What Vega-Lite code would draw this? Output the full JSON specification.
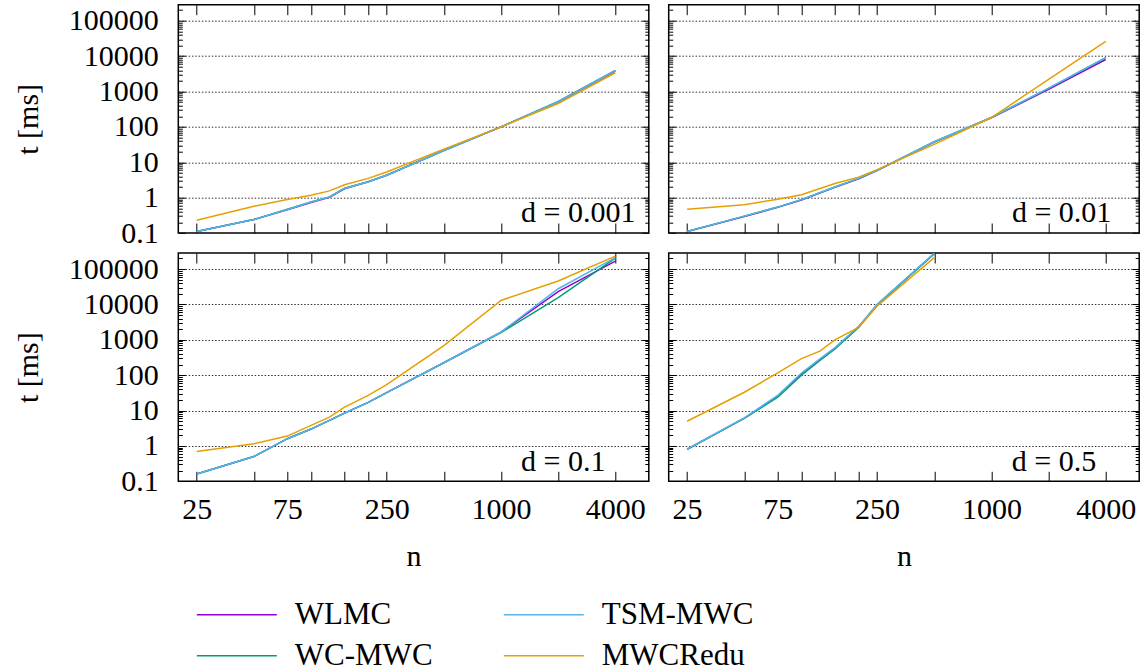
{
  "$schema": "https://vega.github.io/schema/vega-lite/v6.json",
  "autosize": {"type": "none"},
  "padding": {"left": 178.3, "top": 4.7, "right": 966.7, "bottom": 666.3},
  "bounds": "flush",
  "columns": 2,
  "spacing": {"row": 19.3, "column": 19.4},
  "datasets": {
    "runs": [
      {"d": "0.001", "algo": "WLMC", "n": 25, "t": 0.11},
      {"d": "0.001", "algo": "WLMC", "n": 50, "t": 0.24},
      {"d": "0.001", "algo": "WLMC", "n": 75, "t": 0.45},
      {"d": "0.001", "algo": "WLMC", "n": 100, "t": 0.73},
      {"d": "0.001", "algo": "WLMC", "n": 125, "t": 1.02},
      {"d": "0.001", "algo": "WLMC", "n": 150, "t": 1.78},
      {"d": "0.001", "algo": "WLMC", "n": 200, "t": 2.8},
      {"d": "0.001", "algo": "WLMC", "n": 250, "t": 4.3},
      {"d": "0.001", "algo": "WLMC", "n": 500, "t": 21.5},
      {"d": "0.001", "algo": "WLMC", "n": 1000, "t": 100},
      {"d": "0.001", "algo": "WLMC", "n": 2000, "t": 505},
      {"d": "0.001", "algo": "WLMC", "n": 4000, "t": 3800},
      {"d": "0.001", "algo": "WC-MWC", "n": 25, "t": 0.11},
      {"d": "0.001", "algo": "WC-MWC", "n": 50, "t": 0.24},
      {"d": "0.001", "algo": "WC-MWC", "n": 75, "t": 0.47},
      {"d": "0.001", "algo": "WC-MWC", "n": 100, "t": 0.76},
      {"d": "0.001", "algo": "WC-MWC", "n": 125, "t": 1.05},
      {"d": "0.001", "algo": "WC-MWC", "n": 150, "t": 1.85},
      {"d": "0.001", "algo": "WC-MWC", "n": 200, "t": 2.8},
      {"d": "0.001", "algo": "WC-MWC", "n": 250, "t": 4.3},
      {"d": "0.001", "algo": "WC-MWC", "n": 500, "t": 21.5},
      {"d": "0.001", "algo": "WC-MWC", "n": 1000, "t": 100},
      {"d": "0.001", "algo": "WC-MWC", "n": 2000, "t": 525},
      {"d": "0.001", "algo": "WC-MWC", "n": 4000, "t": 3950},
      {"d": "0.001", "algo": "TSM-MWC", "n": 25, "t": 0.11},
      {"d": "0.001", "algo": "TSM-MWC", "n": 50, "t": 0.24},
      {"d": "0.001", "algo": "TSM-MWC", "n": 75, "t": 0.46},
      {"d": "0.001", "algo": "TSM-MWC", "n": 100, "t": 0.75},
      {"d": "0.001", "algo": "TSM-MWC", "n": 125, "t": 1.04},
      {"d": "0.001", "algo": "TSM-MWC", "n": 150, "t": 1.82},
      {"d": "0.001", "algo": "TSM-MWC", "n": 200, "t": 2.8},
      {"d": "0.001", "algo": "TSM-MWC", "n": 250, "t": 4.3},
      {"d": "0.001", "algo": "TSM-MWC", "n": 500, "t": 21.5},
      {"d": "0.001", "algo": "TSM-MWC", "n": 1000, "t": 100},
      {"d": "0.001", "algo": "TSM-MWC", "n": 2000, "t": 515},
      {"d": "0.001", "algo": "TSM-MWC", "n": 4000, "t": 3880},
      {"d": "0.001", "algo": "MWCRedu", "n": 25, "t": 0.23},
      {"d": "0.001", "algo": "MWCRedu", "n": 50, "t": 0.57},
      {"d": "0.001", "algo": "MWCRedu", "n": 75, "t": 0.88},
      {"d": "0.001", "algo": "MWCRedu", "n": 100, "t": 1.17},
      {"d": "0.001", "algo": "MWCRedu", "n": 125, "t": 1.55},
      {"d": "0.001", "algo": "MWCRedu", "n": 150, "t": 2.3},
      {"d": "0.001", "algo": "MWCRedu", "n": 200, "t": 3.5},
      {"d": "0.001", "algo": "MWCRedu", "n": 250, "t": 5.3},
      {"d": "0.001", "algo": "MWCRedu", "n": 500, "t": 23.5},
      {"d": "0.001", "algo": "MWCRedu", "n": 1000, "t": 100},
      {"d": "0.001", "algo": "MWCRedu", "n": 2000, "t": 457},
      {"d": "0.001", "algo": "MWCRedu", "n": 4000, "t": 3390},

      {"d": "0.01", "algo": "WLMC", "n": 25, "t": 0.11},
      {"d": "0.01", "algo": "WLMC", "n": 50, "t": 0.29},
      {"d": "0.01", "algo": "WLMC", "n": 75, "t": 0.53},
      {"d": "0.01", "algo": "WLMC", "n": 100, "t": 0.86},
      {"d": "0.01", "algo": "WLMC", "n": 150, "t": 1.95},
      {"d": "0.01", "algo": "WLMC", "n": 200, "t": 3.4},
      {"d": "0.01", "algo": "WLMC", "n": 250, "t": 5.8},
      {"d": "0.01", "algo": "WLMC", "n": 500, "t": 37},
      {"d": "0.01", "algo": "WLMC", "n": 1000, "t": 180},
      {"d": "0.01", "algo": "WLMC", "n": 2000, "t": 1150},
      {"d": "0.01", "algo": "WLMC", "n": 4000, "t": 8050},
      {"d": "0.01", "algo": "WC-MWC", "n": 25, "t": 0.11},
      {"d": "0.01", "algo": "WC-MWC", "n": 50, "t": 0.3},
      {"d": "0.01", "algo": "WC-MWC", "n": 75, "t": 0.54},
      {"d": "0.01", "algo": "WC-MWC", "n": 100, "t": 0.88},
      {"d": "0.01", "algo": "WC-MWC", "n": 150, "t": 2.0},
      {"d": "0.01", "algo": "WC-MWC", "n": 200, "t": 3.5},
      {"d": "0.01", "algo": "WC-MWC", "n": 250, "t": 5.9},
      {"d": "0.01", "algo": "WC-MWC", "n": 500, "t": 38},
      {"d": "0.01", "algo": "WC-MWC", "n": 1000, "t": 184},
      {"d": "0.01", "algo": "WC-MWC", "n": 2000, "t": 1230},
      {"d": "0.01", "algo": "WC-MWC", "n": 4000, "t": 9000},
      {"d": "0.01", "algo": "TSM-MWC", "n": 25, "t": 0.11},
      {"d": "0.01", "algo": "TSM-MWC", "n": 50, "t": 0.3},
      {"d": "0.01", "algo": "TSM-MWC", "n": 75, "t": 0.54},
      {"d": "0.01", "algo": "TSM-MWC", "n": 100, "t": 0.88},
      {"d": "0.01", "algo": "TSM-MWC", "n": 150, "t": 2.0},
      {"d": "0.01", "algo": "TSM-MWC", "n": 200, "t": 3.5},
      {"d": "0.01", "algo": "TSM-MWC", "n": 250, "t": 5.9},
      {"d": "0.01", "algo": "TSM-MWC", "n": 500, "t": 38},
      {"d": "0.01", "algo": "TSM-MWC", "n": 1000, "t": 184},
      {"d": "0.01", "algo": "TSM-MWC", "n": 2000, "t": 1250},
      {"d": "0.01", "algo": "TSM-MWC", "n": 4000, "t": 9100},
      {"d": "0.01", "algo": "MWCRedu", "n": 25, "t": 0.47},
      {"d": "0.01", "algo": "MWCRedu", "n": 50, "t": 0.63},
      {"d": "0.01", "algo": "MWCRedu", "n": 75, "t": 0.9},
      {"d": "0.01", "algo": "MWCRedu", "n": 100, "t": 1.2},
      {"d": "0.01", "algo": "MWCRedu", "n": 150, "t": 2.5},
      {"d": "0.01", "algo": "MWCRedu", "n": 200, "t": 3.8},
      {"d": "0.01", "algo": "MWCRedu", "n": 250, "t": 6.2},
      {"d": "0.01", "algo": "MWCRedu", "n": 500, "t": 32},
      {"d": "0.01", "algo": "MWCRedu", "n": 1000, "t": 184},
      {"d": "0.01", "algo": "MWCRedu", "n": 2000, "t": 2200},
      {"d": "0.01", "algo": "MWCRedu", "n": 4000, "t": 26000},

      {"d": "0.1", "algo": "WLMC", "n": 25, "t": 0.16},
      {"d": "0.1", "algo": "WLMC", "n": 50, "t": 0.5},
      {"d": "0.1", "algo": "WLMC", "n": 75, "t": 1.6},
      {"d": "0.1", "algo": "WLMC", "n": 100, "t": 3.0},
      {"d": "0.1", "algo": "WLMC", "n": 150, "t": 8.5},
      {"d": "0.1", "algo": "WLMC", "n": 200, "t": 17},
      {"d": "0.1", "algo": "WLMC", "n": 250, "t": 32},
      {"d": "0.1", "algo": "WLMC", "n": 500, "t": 225},
      {"d": "0.1", "algo": "WLMC", "n": 1000, "t": 1650},
      {"d": "0.1", "algo": "WLMC", "n": 2000, "t": 23000},
      {"d": "0.1", "algo": "WLMC", "n": 4000, "t": 168000},
      {"d": "0.1", "algo": "WC-MWC", "n": 25, "t": 0.16},
      {"d": "0.1", "algo": "WC-MWC", "n": 50, "t": 0.5},
      {"d": "0.1", "algo": "WC-MWC", "n": 75, "t": 1.6},
      {"d": "0.1", "algo": "WC-MWC", "n": 100, "t": 3.0},
      {"d": "0.1", "algo": "WC-MWC", "n": 150, "t": 8.5},
      {"d": "0.1", "algo": "WC-MWC", "n": 200, "t": 17},
      {"d": "0.1", "algo": "WC-MWC", "n": 250, "t": 32},
      {"d": "0.1", "algo": "WC-MWC", "n": 500, "t": 225},
      {"d": "0.1", "algo": "WC-MWC", "n": 1000, "t": 1600},
      {"d": "0.1", "algo": "WC-MWC", "n": 2000, "t": 15500},
      {"d": "0.1", "algo": "WC-MWC", "n": 4000, "t": 205000},
      {"d": "0.1", "algo": "TSM-MWC", "n": 25, "t": 0.16},
      {"d": "0.1", "algo": "TSM-MWC", "n": 50, "t": 0.5},
      {"d": "0.1", "algo": "TSM-MWC", "n": 75, "t": 1.6},
      {"d": "0.1", "algo": "TSM-MWC", "n": 100, "t": 3.0},
      {"d": "0.1", "algo": "TSM-MWC", "n": 150, "t": 8.5},
      {"d": "0.1", "algo": "TSM-MWC", "n": 200, "t": 17},
      {"d": "0.1", "algo": "TSM-MWC", "n": 250, "t": 32},
      {"d": "0.1", "algo": "TSM-MWC", "n": 500, "t": 225},
      {"d": "0.1", "algo": "TSM-MWC", "n": 1000, "t": 1650},
      {"d": "0.1", "algo": "TSM-MWC", "n": 2000, "t": 27800},
      {"d": "0.1", "algo": "TSM-MWC", "n": 4000, "t": 210000},
      {"d": "0.1", "algo": "MWCRedu", "n": 25, "t": 0.7},
      {"d": "0.1", "algo": "MWCRedu", "n": 50, "t": 1.15},
      {"d": "0.1", "algo": "MWCRedu", "n": 75, "t": 1.9},
      {"d": "0.1", "algo": "MWCRedu", "n": 100, "t": 3.8},
      {"d": "0.1", "algo": "MWCRedu", "n": 125, "t": 6.5},
      {"d": "0.1", "algo": "MWCRedu", "n": 150, "t": 12.5},
      {"d": "0.1", "algo": "MWCRedu", "n": 200, "t": 27},
      {"d": "0.1", "algo": "MWCRedu", "n": 250, "t": 54},
      {"d": "0.1", "algo": "MWCRedu", "n": 500, "t": 690},
      {"d": "0.1", "algo": "MWCRedu", "n": 1000, "t": 13000},
      {"d": "0.1", "algo": "MWCRedu", "n": 2000, "t": 46000},
      {"d": "0.1", "algo": "MWCRedu", "n": 4000, "t": 233000},

      {"d": "0.5", "algo": "WLMC", "n": 25, "t": 0.8},
      {"d": "0.5", "algo": "WLMC", "n": 50, "t": 6.1},
      {"d": "0.5", "algo": "WLMC", "n": 75, "t": 25},
      {"d": "0.5", "algo": "WLMC", "n": 100, "t": 105},
      {"d": "0.5", "algo": "WLMC", "n": 125, "t": 270},
      {"d": "0.5", "algo": "WLMC", "n": 150, "t": 570},
      {"d": "0.5", "algo": "WLMC", "n": 200, "t": 2300},
      {"d": "0.5", "algo": "WLMC", "n": 250, "t": 9800},
      {"d": "0.5", "algo": "WLMC", "n": 500, "t": 275000},
      {"d": "0.5", "algo": "WC-MWC", "n": 25, "t": 0.8},
      {"d": "0.5", "algo": "WC-MWC", "n": 50, "t": 6.0},
      {"d": "0.5", "algo": "WC-MWC", "n": 75, "t": 24},
      {"d": "0.5", "algo": "WC-MWC", "n": 100, "t": 100},
      {"d": "0.5", "algo": "WC-MWC", "n": 125, "t": 260},
      {"d": "0.5", "algo": "WC-MWC", "n": 150, "t": 550},
      {"d": "0.5", "algo": "WC-MWC", "n": 200, "t": 2250},
      {"d": "0.5", "algo": "WC-MWC", "n": 250, "t": 9600},
      {"d": "0.5", "algo": "WC-MWC", "n": 500, "t": 270000},
      {"d": "0.5", "algo": "TSM-MWC", "n": 25, "t": 0.82},
      {"d": "0.5", "algo": "TSM-MWC", "n": 50, "t": 6.2},
      {"d": "0.5", "algo": "TSM-MWC", "n": 75, "t": 27},
      {"d": "0.5", "algo": "TSM-MWC", "n": 100, "t": 115},
      {"d": "0.5", "algo": "TSM-MWC", "n": 125, "t": 290},
      {"d": "0.5", "algo": "TSM-MWC", "n": 150, "t": 600},
      {"d": "0.5", "algo": "TSM-MWC", "n": 200, "t": 2400},
      {"d": "0.5", "algo": "TSM-MWC", "n": 250, "t": 10000},
      {"d": "0.5", "algo": "TSM-MWC", "n": 500, "t": 280000},
      {"d": "0.5", "algo": "MWCRedu", "n": 25, "t": 5.0},
      {"d": "0.5", "algo": "MWCRedu", "n": 50, "t": 33},
      {"d": "0.5", "algo": "MWCRedu", "n": 75, "t": 117},
      {"d": "0.5", "algo": "MWCRedu", "n": 100, "t": 295},
      {"d": "0.5", "algo": "MWCRedu", "n": 125, "t": 480},
      {"d": "0.5", "algo": "MWCRedu", "n": 150, "t": 1000},
      {"d": "0.5", "algo": "MWCRedu", "n": 200, "t": 2240},
      {"d": "0.5", "algo": "MWCRedu", "n": 250, "t": 8900},
      {"d": "0.5", "algo": "MWCRedu", "n": 500, "t": 210000}
    ]
  },
  "concat": [
    {
      "width": 470.5,
      "height": 228.3,
      "layer": [
        {
          "data": {"name": "runs"},
          "transform": [{"filter": "datum.d === '0.001'"}],
          "mark": {"type": "line", "strokeWidth": 1.5, "clip": true},
          "encoding": {
            "x": {"field": "n", "type": "quantitative", "scale": {"type": "log", "domain": [20, 6000], "nice": false},
              "axis": {"orient": "bottom", "values": [25, 50, 75, 100, 150, 200, 250, 500, 1000, 2000, 4000], "tickSize": -10, "labels": false, "grid": false, "title": null}},
            "y": {"field": "t", "type": "quantitative", "scale": {"type": "log", "domain": [0.1, 285000], "nice": false},
              "axis": {"orient": "left", "values": [0.1, 0.2, 0.3, 0.4, 0.5, 0.6, 0.7, 0.8, 0.9, 1, 2, 3, 4, 5, 6, 7, 8, 9, 10, 20, 30, 40, 50, 60, 70, 80, 90, 100, 200, 300, 400, 500, 600, 700, 800, 900, 1000, 2000, 3000, 4000, 5000, 6000, 7000, 8000, 9000, 10000, 20000, 30000, 40000, 50000, 60000, 70000, 80000, 90000, 100000, 200000],
                "format": "~g",
                "labelExpr": "indexof([0.1, 1, 10, 100, 1000, 10000, 100000], datum.value) >= 0 ? datum.label : ''",
                "tickSize": {"condition": {"test": "indexof([0.1, 1, 10, 100, 1000, 10000, 100000], datum.value) >= 0", "value": -7}, "value": -4},
                "grid": true,
                "gridOpacity": {"condition": {"test": "indexof([1, 10, 100, 1000, 10000, 100000], datum.value) >= 0", "value": 1}, "value": 0},
                "labelPadding": 27, "title": "t [ms]", "titlePadding": 25}},
            "color": {"field": "algo", "type": "nominal", "title": null,
              "scale": {"domain": ["WLMC", "WC-MWC", "TSM-MWC", "MWCRedu"], "range": ["#9400d3", "#009e73", "#56b4e9", "#e69f00"]}}
          }
        },
        {
          "data": {"values": [{"label": "d = 0.001"}]},
          "mark": {"type": "text", "align": "right", "baseline": "alphabetic", "font": "Liberation Serif", "fontSize": 30, "color": "#000"},
          "encoding": {
            "x": {"datum": 5100, "type": "quantitative",
              "axis": {"orient": "top", "values": [25, 50, 75, 100, 150, 200, 250, 500, 1000, 2000, 4000], "tickSize": -10, "labels": false, "grid": false, "title": null}},
            "y": {"datum": 0.2, "type": "quantitative",
              "axis": {"orient": "right", "values": [0.1, 0.2, 0.3, 0.4, 0.5, 0.6, 0.7, 0.8, 0.9, 1, 2, 3, 4, 5, 6, 7, 8, 9, 10, 20, 30, 40, 50, 60, 70, 80, 90, 100, 200, 300, 400, 500, 600, 700, 800, 900, 1000, 2000, 3000, 4000, 5000, 6000, 7000, 8000, 9000, 10000, 20000, 30000, 40000, 50000, 60000, 70000, 80000, 90000, 100000, 200000],
                "tickSize": {"condition": {"test": "indexof([0.1, 1, 10, 100, 1000, 10000, 100000], datum.value) >= 0", "value": -7}, "value": -4},
                "labels": false, "grid": false, "title": null}},
            "text": {"field": "label"}
          }
        }
      ],
      "resolve": {"axis": {"x": "independent", "y": "independent"}}
    },
    {
      "width": 470.5,
      "height": 228.3,
      "layer": [
        {
          "data": {"name": "runs"},
          "transform": [{"filter": "datum.d === '0.01'"}],
          "mark": {"type": "line", "strokeWidth": 1.5, "clip": true},
          "encoding": {
            "x": {"field": "n", "type": "quantitative", "scale": {"type": "log", "domain": [20, 6000], "nice": false},
              "axis": {"orient": "bottom", "values": [25, 50, 75, 100, 150, 200, 250, 500, 1000, 2000, 4000], "tickSize": -10, "labels": false, "grid": false, "title": null}},
            "y": {"field": "t", "type": "quantitative", "scale": {"type": "log", "domain": [0.1, 285000], "nice": false},
              "axis": {"orient": "left", "values": [0.1, 0.2, 0.3, 0.4, 0.5, 0.6, 0.7, 0.8, 0.9, 1, 2, 3, 4, 5, 6, 7, 8, 9, 10, 20, 30, 40, 50, 60, 70, 80, 90, 100, 200, 300, 400, 500, 600, 700, 800, 900, 1000, 2000, 3000, 4000, 5000, 6000, 7000, 8000, 9000, 10000, 20000, 30000, 40000, 50000, 60000, 70000, 80000, 90000, 100000, 200000],
                "tickSize": {"condition": {"test": "indexof([0.1, 1, 10, 100, 1000, 10000, 100000], datum.value) >= 0", "value": -7}, "value": -4},
                "grid": true,
                "gridOpacity": {"condition": {"test": "indexof([1, 10, 100, 1000, 10000, 100000], datum.value) >= 0", "value": 1}, "value": 0},
                "labels": false, "title": null}},
            "color": {"field": "algo", "type": "nominal", "title": null,
              "scale": {"domain": ["WLMC", "WC-MWC", "TSM-MWC", "MWCRedu"], "range": ["#9400d3", "#009e73", "#56b4e9", "#e69f00"]}}
          }
        },
        {
          "data": {"values": [{"label": "d = 0.01"}]},
          "mark": {"type": "text", "align": "right", "baseline": "alphabetic", "font": "Liberation Serif", "fontSize": 30, "color": "#000"},
          "encoding": {
            "x": {"datum": 4280, "type": "quantitative",
              "axis": {"orient": "top", "values": [25, 50, 75, 100, 150, 200, 250, 500, 1000, 2000, 4000], "tickSize": -10, "labels": false, "grid": false, "title": null}},
            "y": {"datum": 0.2, "type": "quantitative",
              "axis": {"orient": "right", "values": [0.1, 0.2, 0.3, 0.4, 0.5, 0.6, 0.7, 0.8, 0.9, 1, 2, 3, 4, 5, 6, 7, 8, 9, 10, 20, 30, 40, 50, 60, 70, 80, 90, 100, 200, 300, 400, 500, 600, 700, 800, 900, 1000, 2000, 3000, 4000, 5000, 6000, 7000, 8000, 9000, 10000, 20000, 30000, 40000, 50000, 60000, 70000, 80000, 90000, 100000, 200000],
                "tickSize": {"condition": {"test": "indexof([0.1, 1, 10, 100, 1000, 10000, 100000], datum.value) >= 0", "value": -7}, "value": -4},
                "labels": false, "grid": false, "title": null}},
            "text": {"field": "label"}
          }
        }
      ],
      "resolve": {"axis": {"x": "independent", "y": "independent"}}
    },
    {
      "width": 470.5,
      "height": 228.3,
      "layer": [
        {
          "data": {"name": "runs"},
          "transform": [{"filter": "datum.d === '0.1'"}],
          "mark": {"type": "line", "strokeWidth": 1.5, "clip": true},
          "encoding": {
            "x": {"field": "n", "type": "quantitative", "scale": {"type": "log", "domain": [20, 6000], "nice": false},
              "axis": {"orient": "bottom", "values": [25, 50, 75, 100, 150, 200, 250, 500, 1000, 2000, 4000], "format": "d",
                "labelExpr": "indexof([25, 75, 250, 1000, 4000], datum.value) >= 0 ? datum.label : ''",
                "tickSize": -10, "labelPadding": 23, "grid": false, "title": "n", "titlePadding": 17}},
            "y": {"field": "t", "type": "quantitative", "scale": {"type": "log", "domain": [0.1, 285000], "nice": false},
              "axis": {"orient": "left", "values": [0.1, 0.2, 0.3, 0.4, 0.5, 0.6, 0.7, 0.8, 0.9, 1, 2, 3, 4, 5, 6, 7, 8, 9, 10, 20, 30, 40, 50, 60, 70, 80, 90, 100, 200, 300, 400, 500, 600, 700, 800, 900, 1000, 2000, 3000, 4000, 5000, 6000, 7000, 8000, 9000, 10000, 20000, 30000, 40000, 50000, 60000, 70000, 80000, 90000, 100000, 200000],
                "format": "~g",
                "labelExpr": "indexof([0.1, 1, 10, 100, 1000, 10000, 100000], datum.value) >= 0 ? datum.label : ''",
                "tickSize": {"condition": {"test": "indexof([0.1, 1, 10, 100, 1000, 10000, 100000], datum.value) >= 0", "value": -7}, "value": -4},
                "grid": true,
                "gridOpacity": {"condition": {"test": "indexof([1, 10, 100, 1000, 10000, 100000], datum.value) >= 0", "value": 1}, "value": 0},
                "labelPadding": 27, "title": "t [ms]", "titlePadding": 25}},
            "color": {"field": "algo", "type": "nominal", "title": null,
              "scale": {"domain": ["WLMC", "WC-MWC", "TSM-MWC", "MWCRedu"], "range": ["#9400d3", "#009e73", "#56b4e9", "#e69f00"]}}
          }
        },
        {
          "data": {"values": [{"label": "d = 0.1"}]},
          "mark": {"type": "text", "align": "right", "baseline": "alphabetic", "font": "Liberation Serif", "fontSize": 30, "color": "#000"},
          "encoding": {
            "x": {"datum": 3550, "type": "quantitative",
              "axis": {"orient": "top", "values": [25, 50, 75, 100, 150, 200, 250, 500, 1000, 2000, 4000], "tickSize": -10, "labels": false, "grid": false, "title": null}},
            "y": {"datum": 0.2, "type": "quantitative",
              "axis": {"orient": "right", "values": [0.1, 0.2, 0.3, 0.4, 0.5, 0.6, 0.7, 0.8, 0.9, 1, 2, 3, 4, 5, 6, 7, 8, 9, 10, 20, 30, 40, 50, 60, 70, 80, 90, 100, 200, 300, 400, 500, 600, 700, 800, 900, 1000, 2000, 3000, 4000, 5000, 6000, 7000, 8000, 9000, 10000, 20000, 30000, 40000, 50000, 60000, 70000, 80000, 90000, 100000, 200000],
                "tickSize": {"condition": {"test": "indexof([0.1, 1, 10, 100, 1000, 10000, 100000], datum.value) >= 0", "value": -7}, "value": -4},
                "labels": false, "grid": false, "title": null}},
            "text": {"field": "label"}
          }
        }
      ],
      "resolve": {"axis": {"x": "independent", "y": "independent"}}
    },
    {
      "width": 470.5,
      "height": 228.3,
      "layer": [
        {
          "data": {"name": "runs"},
          "transform": [{"filter": "datum.d === '0.5'"}],
          "mark": {"type": "line", "strokeWidth": 1.5, "clip": true},
          "encoding": {
            "x": {"field": "n", "type": "quantitative", "scale": {"type": "log", "domain": [20, 6000], "nice": false},
              "axis": {"orient": "bottom", "values": [25, 50, 75, 100, 150, 200, 250, 500, 1000, 2000, 4000], "format": "d",
                "labelExpr": "indexof([25, 75, 250, 1000, 4000], datum.value) >= 0 ? datum.label : ''",
                "tickSize": -10, "labelPadding": 23, "grid": false, "title": "n", "titlePadding": 17}},
            "y": {"field": "t", "type": "quantitative", "scale": {"type": "log", "domain": [0.1, 285000], "nice": false},
              "axis": {"orient": "left", "values": [0.1, 0.2, 0.3, 0.4, 0.5, 0.6, 0.7, 0.8, 0.9, 1, 2, 3, 4, 5, 6, 7, 8, 9, 10, 20, 30, 40, 50, 60, 70, 80, 90, 100, 200, 300, 400, 500, 600, 700, 800, 900, 1000, 2000, 3000, 4000, 5000, 6000, 7000, 8000, 9000, 10000, 20000, 30000, 40000, 50000, 60000, 70000, 80000, 90000, 100000, 200000],
                "tickSize": {"condition": {"test": "indexof([0.1, 1, 10, 100, 1000, 10000, 100000], datum.value) >= 0", "value": -7}, "value": -4},
                "grid": true,
                "gridOpacity": {"condition": {"test": "indexof([1, 10, 100, 1000, 10000, 100000], datum.value) >= 0", "value": 1}, "value": 0},
                "labels": false, "title": null}},
            "color": {"field": "algo", "type": "nominal", "title": null,
              "scale": {"domain": ["WLMC", "WC-MWC", "TSM-MWC", "MWCRedu"], "range": ["#9400d3", "#009e73", "#56b4e9", "#e69f00"]}}
          }
        },
        {
          "data": {"values": [{"label": "d = 0.5"}]},
          "mark": {"type": "text", "align": "right", "baseline": "alphabetic", "font": "Liberation Serif", "fontSize": 30, "color": "#000"},
          "encoding": {
            "x": {"datum": 3560, "type": "quantitative",
              "axis": {"orient": "top", "values": [25, 50, 75, 100, 150, 200, 250, 500, 1000, 2000, 4000], "tickSize": -10, "labels": false, "grid": false, "title": null}},
            "y": {"datum": 0.2, "type": "quantitative",
              "axis": {"orient": "right", "values": [0.1, 0.2, 0.3, 0.4, 0.5, 0.6, 0.7, 0.8, 0.9, 1, 2, 3, 4, 5, 6, 7, 8, 9, 10, 20, 30, 40, 50, 60, 70, 80, 90, 100, 200, 300, 400, 500, 600, 700, 800, 900, 1000, 2000, 3000, 4000, 5000, 6000, 7000, 8000, 9000, 10000, 20000, 30000, 40000, 50000, 60000, 70000, 80000, 90000, 100000, 200000],
                "tickSize": {"condition": {"test": "indexof([0.1, 1, 10, 100, 1000, 10000, 100000], datum.value) >= 0", "value": -7}, "value": -4},
                "labels": false, "grid": false, "title": null}},
            "text": {"field": "label"}
          }
        }
      ],
      "resolve": {"axis": {"x": "independent", "y": "independent"}}
    }
  ],
  "config": {
    "background": "#ffffff",
    "font": "Liberation Serif",
    "view": {"stroke": "#000000", "strokeWidth": 1.5},
    "axis": {
      "domain": false,
      "tickColor": "#000000",
      "tickWidth": 1,
      "labelFont": "Liberation Serif",
      "labelFontSize": 30,
      "labelColor": "#000000",
      "labelOverlap": false,
      "labelFlush": false,
      "titleFont": "Liberation Serif",
      "titleFontSize": 30,
      "titleFontWeight": "normal",
      "titleColor": "#000000",
      "gridColor": "#333333",
      "gridWidth": 1,
      "gridDash": [1.5, 1.8]
    },
    "legend": {
      "orient": "none",
      "legendX": 17.5,
      "legendY": 595,
      "columns": 2,
      "padding": 0,
      "symbolType": "stroke",
      "symbolSize": 6400,
      "symbolStrokeWidth": 1.5,
      "clipHeight": 30,
      "rowPadding": 10,
      "columnPadding": 70,
      "labelOffset": 17,
      "labelFont": "Liberation Serif",
      "labelFontSize": 31,
      "labelColor": "#000000",
      "labelLimit": 400
    }
  }
}
